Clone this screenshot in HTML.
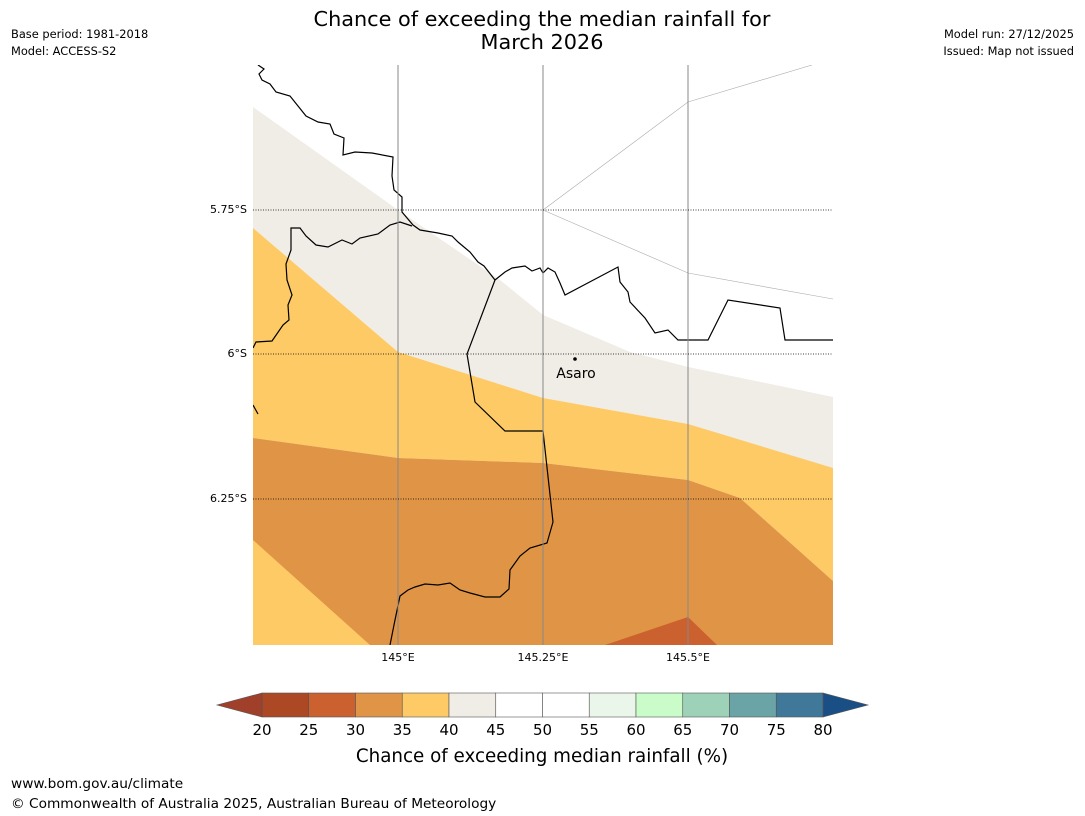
<!DOCTYPE html>
<html><head><meta charset="utf-8">
<style>
body{margin:0;background:#fff;width:1085px;height:816px;overflow:hidden;font-family:"DejaVu Sans","Liberation Sans",sans-serif;}
svg{position:absolute;left:0;top:0}
</style></head>
<body>
<svg width="1085" height="816" viewBox="0 0 1085 816" font-family="DejaVu Sans, Liberation Sans, sans-serif">
<text x="542" y="26" text-anchor="middle" font-size="20.8" fill="#000">Chance of exceeding the median rainfall for</text>
<text x="542" y="49" text-anchor="middle" font-size="20.8" fill="#000">March 2026</text>
<text x="11" y="38" font-size="11.4">Base period: 1981-2018</text>
<text x="11" y="55" font-size="11.4">Model: ACCESS-S2</text>
<text x="1074" y="38" font-size="11.4" text-anchor="end">Model run: 27/12/2025</text>
<text x="1074" y="55" font-size="11.4" text-anchor="end">Issued: Map not issued</text>

<defs><clipPath id="mc"><rect x="253" y="65" width="580" height="580"/></clipPath></defs>
<g clip-path="url(#mc)">
<rect x="253" y="65" width="580" height="580" fill="#fff"/>
<polygon fill="#f0ece6" points="253,107 398,210 500,280 543,315 630,352 688,367 833,397 833,470 688,424 543,398 398,352 253,228"/>
<polygon fill="#fdca65" points="253,228 398,352 543,398 688,424 833,468 833,581 740,498 688,480 543,463 398,458 253,438"/>
<polygon fill="#e09445" points="253,438 398,458 543,463 688,480 740,498 833,581 833,645 253,645"/>
<polygon fill="#fdca65" points="253,540 370,645 253,645"/>
<polygon fill="#cc6130" points="605,645 688,617 717,645"/>
<g stroke="#aaa" stroke-width="0.6" fill="none">
<polyline points="543,210 688,102 812,65"/>
<polyline points="543,210 688,273 833,299"/>
</g>
<g stroke="#000" stroke-width="1.2" fill="none">
<polyline points="258,65 264,69 259,74 262,80 270,84 276,92 290,96 298,106 306,116 318,122 330,124 334,134 344,138 343,155 355,152 372,153 393,157 392,176 394,190 402,197 402,212 413,225 420,230 438,233 452,236 458,242 470,252 478,262 484,266 495,280 505,272 512,268 525,266 532,271 540,268 543,273 548,268 555,272 560,283 565,295 618,267 620,282 628,292 630,302 645,318 655,333 668,330 678,340 708,340 728,300 780,308 785,340 833,340"/>
<polyline points="253,348 256,342 272,341 283,325 289,320 288,305 292,295 287,280 286,264 291,250 291,228 300,228 306,236 316,245 328,247 342,240 352,244 360,238 378,234 390,225 400,222 412,226"/>
<polyline points="495,280 467,354 475,402 505,431 543,431 553,522 547,543 530,548 520,556 510,570 509,589 500,597 485,597 470,593 460,590 450,583 438,585 425,584 415,587 408,590 400,596 395,620 390,645"/>
<polyline points="253,405 258,414"/>
</g>
</g>
<g>
<line x1="398" y1="65" x2="398" y2="645" stroke="#888" stroke-width="1"/>
<line x1="543" y1="65" x2="543" y2="645" stroke="#888" stroke-width="1"/>
<line x1="688" y1="65" x2="688" y2="645" stroke="#888" stroke-width="1"/>
<line x1="253" y1="210" x2="833" y2="210" stroke="#000" stroke-width="0.8" stroke-dasharray="1,1.5"/>
<line x1="253" y1="354" x2="833" y2="354" stroke="#000" stroke-width="0.8" stroke-dasharray="1,1.5"/>
<line x1="253" y1="499" x2="833" y2="499" stroke="#000" stroke-width="0.8" stroke-dasharray="1,1.5"/>
</g>
<g font-size="11" fill="#000">
<text x="247" y="213" text-anchor="end">5.75°S</text>
<text x="247" y="357" text-anchor="end">6°S</text>
<text x="247" y="502" text-anchor="end">6.25°S</text>
<text x="398" y="661" text-anchor="middle">145°E</text>
<text x="543" y="661" text-anchor="middle">145.25°E</text>
<text x="688" y="661" text-anchor="middle">145.5°E</text>
</g>
<circle cx="575" cy="359" r="1.8" fill="#000"/>
<text x="576" y="378" font-size="14" text-anchor="middle">Asaro</text>
<g id="cbar"></g>
<text x="542" y="762" font-size="18.3" text-anchor="middle">Chance of exceeding median rainfall (%)</text>
<text x="11" y="788" font-size="13.7">www.bom.gov.au/climate</text>
<text x="11" y="808" font-size="13.7">© Commonwealth of Australia 2025, Australian Bureau of Meteorology</text>
</svg>
<script>
const binEdges=[20,25,30,35,40,45,50,55,60,65,70,75,80];
const binColors=["#ad4825","#cc6130","#e09445","#fdca65","#f0ece6","#ffffff","#ffffff","#eaf6ea","#c9fcc9","#9dd2b8","#6ba4a6","#3f7899"];
const underColor="#a0402a", overColor="#1a4f85";
const g=document.getElementById('cbar');
const NS="http://www.w3.org/2000/svg";
const x0=262,x1=823,y0=693,h=24;
const sx=v=>x0+(v-binEdges[0])/(binEdges[binEdges.length-1]-binEdges[0])*(x1-x0);
for(let i=0;i<binColors.length;i++){
  const r=document.createElementNS(NS,'rect');
  r.setAttribute('x',sx(binEdges[i]));r.setAttribute('y',y0);
  r.setAttribute('width',sx(binEdges[i+1])-sx(binEdges[i]));r.setAttribute('height',h);
  r.setAttribute('fill',binColors[i]);r.setAttribute('stroke','#555');r.setAttribute('stroke-width','0.6');
  
  
  g.appendChild(r);
}
const tl=document.createElementNS(NS,'polygon');
tl.setAttribute('points',`${x0},${y0} ${x0},${y0+h} 217,${y0+h/2}`);
tl.setAttribute('fill',underColor);tl.setAttribute('stroke','#555');tl.setAttribute('stroke-width','0.6');


g.appendChild(tl);
const tr=document.createElementNS(NS,'polygon');
tr.setAttribute('points',`${x1},${y0} ${x1},${y0+h} 868,${y0+h/2}`);
tr.setAttribute('fill',overColor);tr.setAttribute('stroke','#555');tr.setAttribute('stroke-width','0.6');


g.appendChild(tr);
binEdges.forEach(v=>{
  const t=document.createElementNS(NS,'text');
  t.setAttribute('x',sx(v));t.setAttribute('y',735);t.setAttribute('font-size','15');t.setAttribute('text-anchor','middle');
  t.textContent=v;
  
  
  g.appendChild(t);
});
</script>
</body></html>
